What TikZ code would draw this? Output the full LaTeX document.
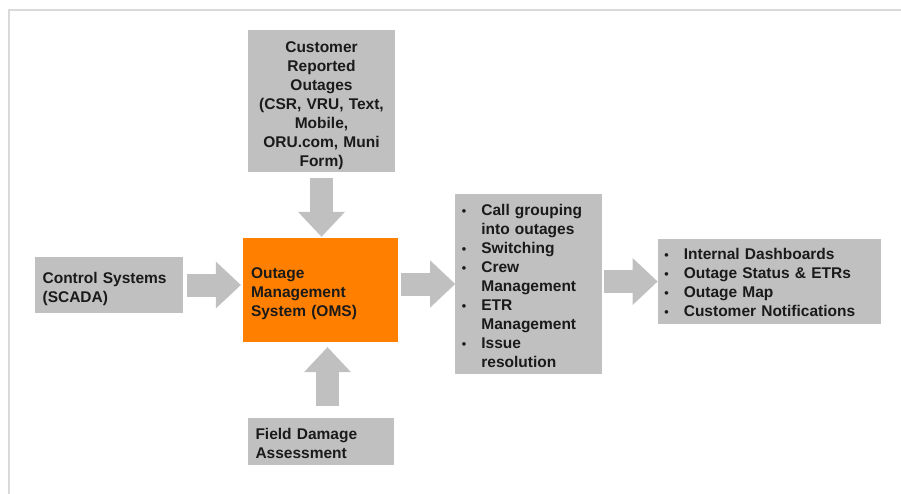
\documentclass[tikz,border=0pt]{standalone}
\usepackage{fontspec}
\setmainfont{Liberation Sans}
\usepackage{xcolor}
\usepackage{tikz}
\usetikzlibrary{arrows.meta, positioning, calc}
\definecolor{boxgray}{HTML}{C0C0C0}
\definecolor{omsorange}{HTML}{FF8000}
\definecolor{arrowgray}{HTML}{C0C0C0}
\definecolor{framegray}{HTML}{DADADA}
\definecolor{textdark}{HTML}{1A1A1A}
\newcommand{\bul}{\makebox[20pt][l]{\hspace{0.5pt}{\fontsize{12.5}{12.5}\selectfont\textbullet}}}
\newcommand{\cont}{\hspace*{20pt}}

\begin{document}
\begin{tikzpicture}[
  x=1pt, y=-1pt,
  node distance=60pt,
  infobox/.style={rectangle, fill=#1, inner xsep=8pt, inner ysep=0pt, text=textdark, align=left, font=\fontsize{15.5}{19}\selectfont\bfseries},
  listbox/.style={infobox=boxgray, inner xsep=6pt},
  padtop/.style={execute at begin node={\rule{0pt}{#1}}},
  blockarrow/.style={draw=arrowgray, line width=23pt, -{Triangle[length=25pt, width=47pt, line width=0pt 0]}}
]
  \useasboundingbox (0,0) rectangle (901,494);

  % Frame
  \draw[framegray, line width=1.5pt] (901,10) -- (9,10) -- (9,494);

  % Core system
  \node[infobox=omsorange, padtop=17.5pt, text width=139pt, minimum height=104pt] (oms) at (320.5,290) {Outage\\Management\\System (OMS)};

  % Inputs
  \node[infobox=boxgray, padtop=21.5pt, inner xsep=6pt, text width=135pt, minimum height=142pt, align=center, above=66pt of oms, xshift=1pt] (cust) {Customer\\Reported\\Outages\\(CSR, VRU, Text,\\Mobile,\\ORU.com, Muni\\Form)};
  \node[infobox=boxgray, padtop=19.5pt, text width=132pt, minimum height=56pt, left=60pt of oms, yshift=5pt] (ctrl) {Control Systems\\(SCADA)};
  \node[infobox=boxgray, padtop=13.5pt, text width=130pt, minimum height=47pt, below=76pt of oms] (field) {Field Damage\\Assessment};

  % Processing and outputs
  \node[listbox, padtop=14.5pt, text width=135pt, minimum height=180pt, right=57pt of oms, yshift=6pt] (tasks) {\bul Call grouping\\\cont into outages\\\bul Switching\\\bul Crew\\\cont Management\\\bul ETR\\\cont Management\\\bul Issue\\\cont resolution};
  \node[listbox, padtop=12.5pt, text width=211pt, minimum height=85pt, right=55pt of tasks, yshift=2.5pt] (outputs) {\bul Internal Dashboards\\\bul Outage Status \& ETRs\\\bul Outage Map\\\bul Customer Notifications};

  % Arrows
  \draw[blockarrow, shorten <=6pt, shorten >=1pt] (cust.south) -- (cust.south |- oms.north);
  \draw[blockarrow, shorten <=4pt, shorten >=2pt] (ctrl.east) -- (ctrl.east -| oms.west);
  \draw[blockarrow, shorten <=12pt, shorten >=5pt] ([xshift=7pt]field.north) -- ([xshift=7pt]field.north |- oms.south);
  \draw[blockarrow, shorten <=3pt] (oms.east |- tasks.west) -- (tasks.west);
  \draw[blockarrow, shorten <=1pt] (tasks.east |- outputs.west) -- (outputs.west);
\end{tikzpicture}
\end{document}
